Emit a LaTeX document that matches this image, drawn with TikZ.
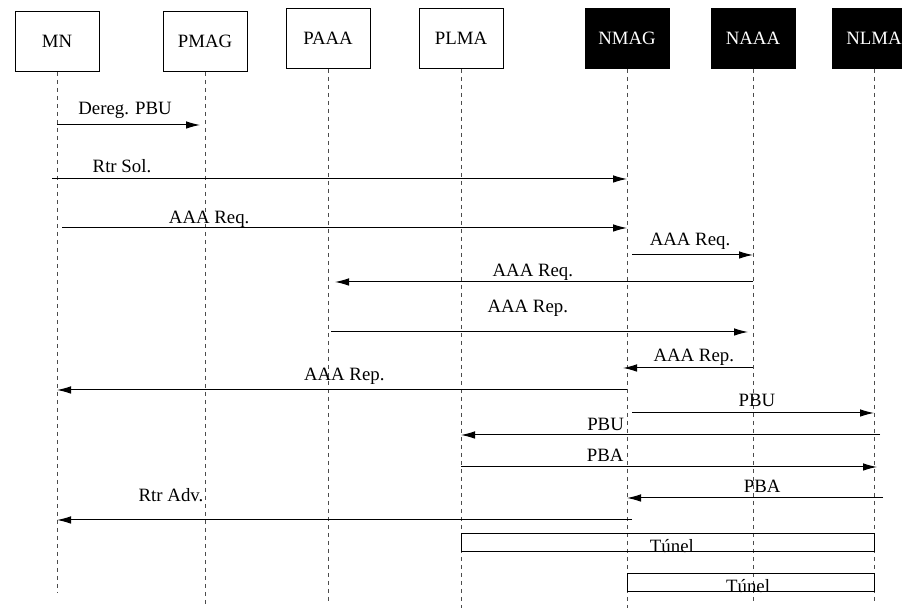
\documentclass[tikz,border=0pt]{standalone}
\usepackage{fontspec}
\setmainfont{Liberation Serif}
\usetikzlibrary{positioning,arrows.meta,fit}

\begin{document}
\begin{tikzpicture}[
  x=0.5pt, y=-0.5pt,
  every node/.style={font=\fontsize{9.4pt}{11pt}\selectfont},
  entity/.style={draw, minimum width=42pt, minimum height=30pt, inner sep=0pt, line width=0.5pt},
  netent/.style={entity, fill=black, text=white},
  life/.style={black!70, line width=0.45pt, dash pattern=on 2pt off 2pt},
  msg/.style={-{Latex[length=7pt,width=3.8pt]}, line width=0.5pt},
  lab/.style={inner sep=0pt, anchor=base},
  tunnel/.style={draw, line width=0.5pt, inner sep=0pt}
]
\useasboundingbox (0,0) rectangle (902,608);
\node[entity] (mn) at (57,41.5) {MN};
\node[entity, right=31.5pt of mn] (pmag) {PMAG};
\node[entity, right=19pt of pmag, yshift=1.5pt] (paaa) {PAAA};
\node[entity, right=24pt of paaa] (plma) {PLMA};
\node[netent, right=40.5pt of plma] (nmag) {NMAG};
\node[netent, right=20.5pt of nmag] (naaa) {NAAA};
\node[netent, right=18pt of naaa] (nlma) {NLMA};

\coordinate[below=260.5pt of mn.south] (mnend);
\coordinate[below=267pt of pmag.south] (pmagend);
\coordinate[below=267pt of paaa.south] (paaaend);
\coordinate[below=270pt of plma.south] (plmaend);
\coordinate[below=270pt of nmag.south] (nmagend);
\coordinate[below=267pt of naaa.south] (naaaend);
\coordinate[below=267pt of nlma.south] (nlmaend);
\foreach \n in {mn,pmag,paaa,plma,nmag,naaa,nlma}
  \draw[life] (\n.south) -- (\n end);

\foreach \r/\y in {1/125,2/179,3/228,4/255,5/282,6/332,7/368,8/390,9/413,10/435,11/467,12/498,13/520,14/534,15/552,16/574,17/592}
  \coordinate (r\r) at (0,\y);

\draw[msg, shorten >=2.5pt] (mn |- r1) -- node[lab, pos=0.46, yshift=5pt] {Dereg. PBU} (pmag |- r1);
\draw[msg, shorten <=-2.5pt] (mn |- r2) -- node[lab, pos=0.114, yshift=3pt] {Rtr Sol.} (nmag |- r2);
\draw[msg, shorten <=2.5pt] (mn |- r3) -- node[lab, pos=0.267, yshift=2pt] {AAA Req.} (nmag |- r3);
\draw[msg, shorten <=2.5pt] (nmag |- r4) -- node[lab, yshift=4.5pt] {AAA Req.} (naaa |- r4);
\draw[msg, shorten >=3.5pt] (naaa |- r5) -- node[lab, pos=0.518, yshift=2.5pt] {AAA Req.} (paaa |- r5);
\draw[msg, shorten <=1.5pt, shorten >=2.5pt] (paaa |- r6) -- node[lab, pos=0.47, yshift=9.5pt] {AAA Rep.} (naaa |- r6);
\draw[msg, shorten >=-2pt] (naaa |- r7) -- node[lab, pos=0.47, yshift=3pt] {AAA Rep.} (nmag |- r7);
\draw[msg] (nmag |- r8) -- node[lab, pos=0.496, yshift=4.5pt] {AAA Rep.} (mn |- r8);
\draw[msg, shorten <=2.5pt] (nmag |- r9) -- node[lab, pos=0.526, yshift=3pt] {PBU} (nlma |- r9);
\draw[msg, shorten <=-3pt] (nlma |- r10) -- node[lab, pos=0.65, yshift=2pt] {PBU} (plma |- r10);
\draw[msg, shorten >=-1.5pt] (plma |- r11) -- node[lab, pos=0.349, yshift=2.5pt] {PBA} (nlma |- r11);
\draw[msg, shorten <=-4.5pt] (nlma |- r12) -- node[lab, pos=0.453, yshift=2.5pt] {PBA} (nmag |- r12);
\draw[msg, shorten <=-2.5pt] (nmag |- r13) -- node[lab, pos=0.8, yshift=9pt] {Rtr Adv.} (mn |- r13);

\node[tunnel, fit=(plma |- r14) (nlma |- r15)] (tun1) {};
\node[lab, xshift=2.2pt] (tun1lab) at (tun1.south) {Túnel};
\node[tunnel, fit=(nmag |- r16) (nlma |- r17)] (tun2) {};
\node[lab, xshift=-1.2pt] (tun2lab) at (tun2.south) {Túnel};
\end{tikzpicture}
\end{document}
